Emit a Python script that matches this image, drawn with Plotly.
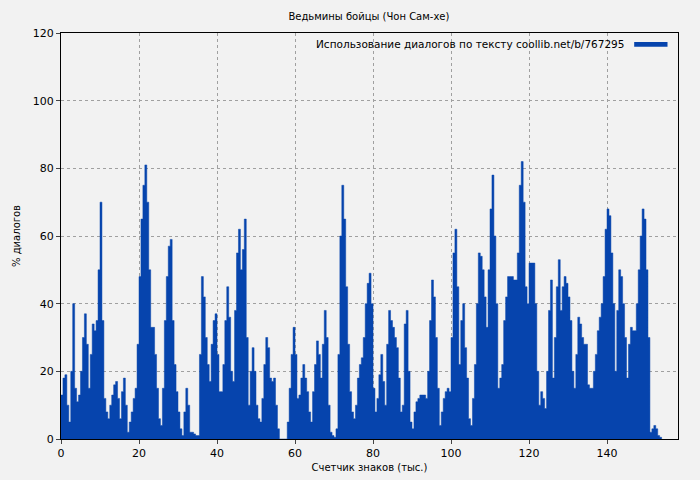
import plotly.graph_objects as go

# share of dialogue, sampled every 0.5 thousand characters starting at 0
values = [
    13, 18, 19, 10, 5, 20, 40, 15, 11, 13, 20, 30, 37, 28, 15, 25, 34, 32, 35, 50,
    70, 35, 12, 8, 6, 10, 13, 16, 17, 12, 6, 14, 18, 10, 2, 5, 8, 12, 15, 28,
    48, 65, 75, 81, 70, 50, 33, 33, 25, 15, 6, 4, 15, 35, 48, 57, 59, 35, 22, 14,
    8, 3, 1, 8, 15, 10, 2, 2, 1.5, 1, 1, 25, 48, 42, 30, 22, 17, 28, 35, 37,
    25, 14, 14, 22, 35, 45, 36, 20, 17, 38, 55, 62, 50, 56, 65, 30, 10, 20, 27, 20,
    10, 6, 5, 12, 22, 30, 27, 18, 17, 18, 10, 3, 0, 0, 0, 0, 5, 15, 25, 33,
    25, 12, 13, 18, 22, 18, 14, 8, 5, 14, 22, 29, 25, 18, 28, 38, 30, 10, 2, 1,
    0.5, 3, 25, 60, 75, 65, 45, 28, 14, 8, 6, 10, 18, 22, 24, 30, 40, 46, 49, 40,
    15, 8, 12, 19, 25, 17, 10, 28, 38, 35, 33, 30, 27, 18, 8, 10, 34, 38, 20, 5,
    3, 8, 11, 12, 13, 13, 13, 12, 20, 35, 47, 42, 30, 15, 4, 8, 12, 14, 15, 14,
    30, 55, 62, 45, 22, 35, 40, 27, 18, 6, 4, 12, 22, 40, 55, 54, 50, 42, 33, 50,
    68, 78, 60, 40, 15, 18, 22, 35, 42, 48, 48, 48, 47, 47, 55, 75, 82, 70, 45, 40,
    52, 52, 52, 40, 20, 10, 14, 12, 9, 20, 38, 47, 18, 30, 45, 53, 38, 45, 48, 46,
    42, 35, 20, 15, 25, 36, 34, 30, 28, 28, 16, 15, 15, 20, 25, 32, 36, 40, 48, 62,
    68, 66, 55, 40, 20, 38, 50, 48, 40, 30, 18, 28, 33, 32, 32, 40, 50, 60, 68, 65,
    50, 30, 2, 3, 4, 3, 1, 0.5, 0,
]
positions = [i * 0.5 for i in range(len(values))]
legend_text = "Использование диалогов по тексту coollib.net/b/767295"
blue = "#0644ad"

fig = go.Figure()
fig.add_trace(go.Scatter(
    x=positions, y=values, mode="lines", line=dict(shape="hv", width=0.5, color=blue),
    fill="tozeroy", fillcolor=blue, name=legend_text,
))

axis_common = dict(
    showline=True, linecolor="black", linewidth=1, mirror=True, automargin=False,
    gridcolor="#a0a0a0", griddash="dot", gridwidth=1, ticks="outside", ticklen=4,
    tickfont=dict(size=11, color="black"), zeroline=False,
)
fig.update_layout(
    width=700, height=480,
    paper_bgcolor="#f2f2f2", plot_bgcolor="#f2f2f2",
    margin=dict(l=61, r=22, t=33, b=41),
    font=dict(family="DejaVu Sans", size=10, color="black"),
    title=dict(text="Ведьмины бойцы (Чон Сам-хе)", x=0.527, xanchor="center",
               y=0.965, yanchor="middle", font=dict(size=10)),
    showlegend=False,
    xaxis=dict(range=[0, 158.2], dtick=20,
               title=dict(text="Счетчик знаков (тыс.)", standoff=4, font=dict(size=10)), **axis_common),
    yaxis=dict(range=[0, 120], dtick=20,
               title=dict(text="% диалогов", standoff=10, font=dict(size=10)), **axis_common),
    annotations=[dict(text=legend_text, xref="paper", yref="paper", x=0.915, y=0.973,
                      xanchor="right", yanchor="middle", showarrow=False, font=dict(size=10.5))],
    shapes=[dict(type="rect", xref="paper", yref="paper", x0=0.929, x1=0.983,
                 y0=0.966, y1=0.978, fillcolor=blue, line=dict(width=0))],
)

fig.write_html("out.html", config={"displayModeBar": False},
               post_script="document.body.style.margin='0';")
